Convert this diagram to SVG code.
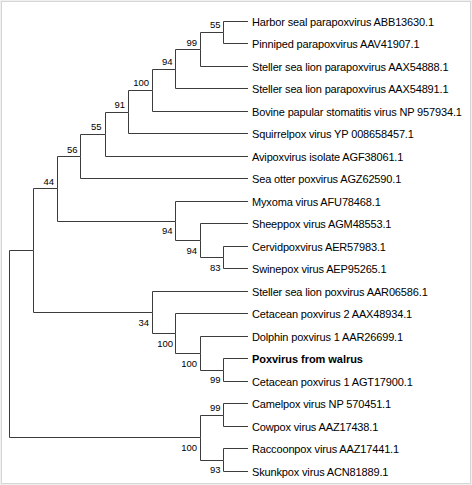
<svg xmlns="http://www.w3.org/2000/svg" width="472" height="485" viewBox="0 0 472 485">
<style>
.leaf{font-family:"Liberation Sans",Arial,sans-serif;font-size:11px;letter-spacing:-0.15px;fill:#000}
.bold{font-weight:bold;letter-spacing:-0.05px}
.bs{font-family:"Liberation Sans",Arial,sans-serif;font-size:9.5px;fill:#000;text-anchor:end}
.br{fill:none;stroke:#3c3c3c;stroke-width:1}
</style>
<rect x="0" y="0" width="472" height="485" fill="#f0f0f0"/>
<rect x="1.5" y="1.5" width="469" height="482" fill="#fff" stroke="#d6d6d6"/>
<g id="connectors" class="br">
<path d="M223.5 32.5 V21.5 H248 M223.5 32.5 V43.5 H248"/>
<path d="M200.5 49.5 V32.5 H223.5 M200.5 49.5 V66.5 H248"/>
<path d="M175.5 69.5 V49.5 H200.5 M175.5 69.5 V88.5 H248"/>
<path d="M152.5 90.5 V69.5 H175.5 M152.5 90.5 V111.5 H248"/>
<path d="M128.5 112.5 V90.5 H152.5 M128.5 112.5 V133.5 H248"/>
<path d="M105.5 134.5 V112.5 H128.5 M105.5 134.5 V156.5 H248"/>
<path d="M80.5 156.5 V134.5 H105.5 M80.5 156.5 V178.5 H248"/>
<path d="M223.5 257.5 V246.5 H248 M223.5 257.5 V268.5 H248"/>
<path d="M200.5 240.5 V223.5 H248 M200.5 240.5 V257.5 H223.5"/>
<path d="M175.5 221.5 V201.5 H248 M175.5 221.5 V240.5 H200.5"/>
<path d="M57.5 188.5 V156.5 H80.5 M57.5 188.5 V221.5 H175.5"/>
<path d="M223.5 370.5 V358.5 H248 M223.5 370.5 V381.5 H248"/>
<path d="M200.5 353.5 V336.5 H248 M200.5 353.5 V370.5 H223.5"/>
<path d="M175.5 333.5 V313.5 H248 M175.5 333.5 V353.5 H200.5"/>
<path d="M152.5 312.5 V291.5 H248 M152.5 312.5 V333.5 H175.5"/>
<path d="M33.5 250.5 V188.5 H57.5 M33.5 250.5 V312.5 H152.5"/>
<path d="M223.5 415.5 V403.5 H248 M223.5 415.5 V426.5 H248"/>
<path d="M223.5 460.5 V448.5 H248 M223.5 460.5 V471.5 H248"/>
<path d="M200.5 437.5 V415.5 H223.5 M200.5 437.5 V460.5 H223.5"/>
<path d="M9.5 344 V250.5 H33.5 M9.5 344 V437.5 H200.5"/>
</g>
<g id="leaves" class="leaf">
<g id="leaf-harbor"><text x="252" y="25.5">Harbor seal parapoxvirus ABB13630.1</text></g>
<g id="leaf-pinniped"><text x="252" y="47.5">Pinniped parapoxvirus AAV41907.1</text></g>
<g id="leaf-ssl888"><text x="252" y="70.5">Steller sea lion parapoxvirus AAX54888.1</text></g>
<g id="leaf-ssl891"><text x="252" y="92.5">Steller sea lion parapoxvirus AAX54891.1</text></g>
<g id="leaf-bovine"><text x="252" y="115.5">Bovine papular stomatitis virus NP 957934.1</text></g>
<g id="leaf-squirrel"><text x="252" y="137.5">Squirrelpox virus YP 008658457.1</text></g>
<g id="leaf-avipox"><text x="252" y="160.5">Avipoxvirus isolate AGF38061.1</text></g>
<g id="leaf-seaotter"><text x="252" y="182.5">Sea otter poxvirus AGZ62590.1</text></g>
<g id="leaf-myxoma"><text x="252" y="205.5">Myxoma virus AFU78468.1</text></g>
<g id="leaf-sheeppox"><text x="252" y="227.5">Sheeppox virus AGM48553.1</text></g>
<g id="leaf-cervid"><text x="252" y="250.5">Cervidpoxvirus AER57983.1</text></g>
<g id="leaf-swine"><text x="252" y="272.5">Swinepox virus AEP95265.1</text></g>
<g id="leaf-sslpox"><text x="252" y="295.5">Steller sea lion poxvirus AAR06586.1</text></g>
<g id="leaf-cet2"><text x="252" y="317.5">Cetacean poxvirus 2 AAX48934.1</text></g>
<g id="leaf-dolphin"><text x="252" y="340.5">Dolphin poxvirus 1 AAR26699.1</text></g>
<g id="leaf-walrus"><text class="bold" x="252" y="362.5">Poxvirus from walrus</text></g>
<g id="leaf-cet1"><text x="252" y="385.5">Cetacean poxvirus 1 AGT17900.1</text></g>
<g id="leaf-camel"><text x="252" y="407.5">Camelpox virus NP 570451.1</text></g>
<g id="leaf-cow"><text x="252" y="430.5">Cowpox virus AAZ17438.1</text></g>
<g id="leaf-raccoon"><text x="252" y="452.5">Raccoonpox virus AAZ17441.1</text></g>
<g id="leaf-skunk"><text x="252" y="475.5">Skunkpox virus ACN81889.1</text></g>
</g>
<g id="bootstrap" class="bs">
<g id="node-a"><text x="220.5" y="28">55</text></g>
<g id="node-b"><text x="197" y="45.5">99</text></g>
<g id="node-c"><text x="172.5" y="65">94</text></g>
<g id="node-d"><text x="149" y="86">100</text></g>
<g id="node-e"><text x="125" y="108">91</text></g>
<g id="node-f"><text x="101.5" y="130">55</text></g>
<g id="node-g"><text x="77.5" y="152.5">56</text></g>
<g id="node-k"><text x="54" y="184.5">44</text></g>
<g id="node-j"><text x="172.5" y="234">94</text></g>
<g id="node-i"><text x="197" y="253.5">94</text></g>
<g id="node-h"><text x="220.5" y="270.5">83</text></g>
<g id="node-o"><text x="149" y="325.5">34</text></g>
<g id="node-n"><text x="173" y="346.5">100</text></g>
<g id="node-m"><text x="197" y="366.5">100</text></g>
<g id="node-l"><text x="220.5" y="383">99</text></g>
<g id="node-q"><text x="220.5" y="411">99</text></g>
<g id="node-s"><text x="197" y="450.5">100</text></g>
<g id="node-r"><text x="220.5" y="473">93</text></g>
</g>
</svg>
